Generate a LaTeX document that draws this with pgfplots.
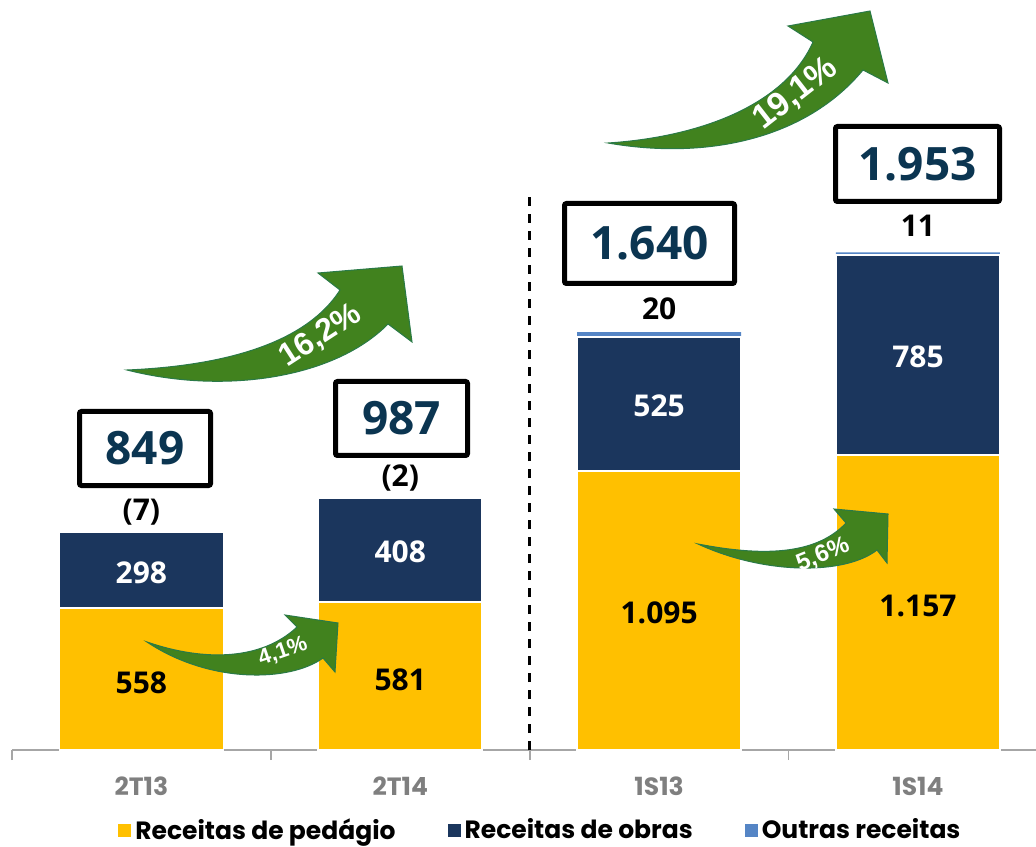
\documentclass[border=0pt]{standalone}
\usepackage{pgfplots}
\pgfplotsset{compat=1.18}
\usepackage{fontspec}
\setmainfont{Open Sans}
\newfontfamily\legfont{Poppins}
\newfontfamily\tickfont{Poppins}
\newfontfamily\arrfont{Liberation Sans}
\definecolor{cyel}{HTML}{FFC000}
\definecolor{cnavy}{HTML}{1B365D}
\definecolor{cblue}{HTML}{5585C5}
\definecolor{cgreen}{HTML}{41821E}
\definecolor{cgreenedge}{HTML}{2A7A48}
\definecolor{cnum}{HTML}{0B3551}
\definecolor{cgrey}{HTML}{7F7F7F}
\begin{document}
\begin{tikzpicture}
\path[use as bounding box] (0,0) rectangle (518pt,423pt);
\begin{axis}[
  at={(6pt,48pt)}, anchor=south west,
  scale only axis, width=512pt, height=375pt,
  xmin=-0.5, xmax=3.456, ymin=0, ymax=2943,
  ybar stacked, bar width=82pt,
  hide y axis,
  axis x line*=bottom,
  x axis line style={draw=gray!70, line width=1pt},
  xtick={0,1,2,3}, xticklabels={2T13,2T14,1S13,1S14},
  major tick length=0pt,
  minor xtick={-0.5,0.5,1.5,2.5}, minor tick length=5pt, tick align=outside,
  minor tick style={draw=gray!70, line width=0.8pt},
  xticklabel style={font=\tickfont\bfseries\fontsize{12.5}{12.5}\selectfont, text=cgrey, yshift=-10pt},
  legend columns=3,
  legend cell align=left,
  legend style={at={(0.517,-0.107)}, anchor=center, draw=none, fill=none,
    font=\legfont\bfseries\fontsize{12.5}{12.5}\selectfont,
    /tikz/every even column/.append style={column sep=24pt}},
  legend image code/.code={\path[#1, draw=none] (0pt,-3.25pt) rectangle (6.5pt,3.25pt);},
  clip=false,
]
\addplot[fill=cyel, draw=white, line width=0.8pt] coordinates {(0,558) (1,581) (2,1095) (3,1157)};
\addlegendentry{Receitas de pedágio}
\addplot[fill=cnavy, draw=white, line width=0.8pt] coordinates {(0,298) (1,408) (2,525) (3,785)};
\addlegendentry{Receitas de obras}
\addplot[fill=cblue, draw=none] coordinates {(0,0) (1,0) (2,20) (3,11)};
\addlegendentry{Outras receitas}

\coordinate (d0) at (axis cs:1.5,0);
\coordinate (d1) at (axis cs:1.5,2180);
\coordinate (y0) at (axis cs:0,265);
\coordinate (y1) at (axis cs:1,275);
\coordinate (y2) at (axis cs:2,540);
\coordinate (y3) at (axis cs:3,565);
\coordinate (n0) at (axis cs:0,697);
\coordinate (n1) at (axis cs:1,778);
\coordinate (n2) at (axis cs:2,1350);
\coordinate (n3) at (axis cs:3,1543);
\coordinate (o0) at (axis cs:0,935);
\coordinate (o1) at (axis cs:1,1067);
\coordinate (o2) at (axis cs:2,1733);
\coordinate (o3) at (axis cs:3,2058);
\end{axis}

\draw[black, line width=1.3pt, dash pattern=on 4.5pt off 4pt] (d0) -- (d1);
\tikzset{lab/.style={font=\bfseries\fontsize{15}{15}\selectfont}}
\node[lab] at (y0) {558};
\node[lab] at (y1) {581};
\node[lab] at (y2) {1.095};
\node[lab] at (y3) {1.157};
\node[lab, text=white] at (n0) {298};
\node[lab, text=white] at (n1) {408};
\node[lab, text=white] at (n2) {525};
\node[lab, text=white] at (n3) {785};
\node[lab] at (o0) {(7)};
\node[lab] at (o1) {(2)};
\node[lab] at (o2) {20};
\node[lab] at (o3) {11};

\begin{scope}[x=0.5pt, y=-0.5pt, shift={(0,423pt)}]
\tikzset{arr/.style={fill=cgreen, draw=cgreenedge, line width=0.5pt},
  box/.style={draw=black, line width=2.5pt, rounded corners=1pt, fill=white, inner sep=0pt,
    font=\bfseries\fontsize{23}{23}\selectfont, text=cnum},
  arrlab/.style={text=white}}
% totals boxes
\node[box, minimum width=65.5pt, minimum height=37pt] at (145,448.5) {849};
\node[box, minimum width=66pt, minimum height=37pt] at (401.5,418.5) {987};
\node[box, minimum width=85pt, minimum height=40pt] at (649.5,243.5) {1.640};
\node[box, minimum width=82pt, minimum height=37.5pt] at (917.5,164) {1.953};
% arrow 16,2%
\path[arr] (127,370) .. controls (220,366) and (305,345) .. (340,290) -- (318,273) -- (402,266) -- (412,342) -- (388,324) .. controls (335,378) and (225,395) .. (127,370) -- cycle;
\node[arrlab, rotate=33, font=\arrfont\bfseries\fontsize{16}{16}\selectfont] at (321,336) {16,2\%};
% arrow 19,1%
\path[arr] (608,143) .. controls (700,137) and (785,105) .. (813,42) -- (788,26) -- (870,11) -- (888,83) -- (863,70) .. controls (805,140) and (705,160) .. (608,143) -- cycle;
\node[arrlab, rotate=38, font=\arrfont\bfseries\fontsize{17}{17}\selectfont] at (796,94) {19,1\%};
% arrow 4,1%
\path[arr] (147,642) .. controls (205,662) and (262,660) .. (297,627) -- (285,615) -- (338,623) -- (335,672) -- (323,658) .. controls (290,682) and (210,684) .. (147,642) -- cycle;
\node[arrlab, rotate=19, font=\arrfont\bfseries\fontsize{11}{11}\selectfont] at (283,652) {4,1\%};
% arrow 5,6%
\path[arr] (698,544) .. controls (760,556) and (815,556) .. (846,523) -- (834,509) -- (888,514) -- (887,563) -- (877,550) .. controls (845,575) and (765,575) .. (698,544) -- cycle;
\node[arrlab, rotate=22, font=\arrfont\bfseries\fontsize{12}{12}\selectfont] at (823,555) {5,6\%};
\end{scope}
\end{tikzpicture}
\end{document}
